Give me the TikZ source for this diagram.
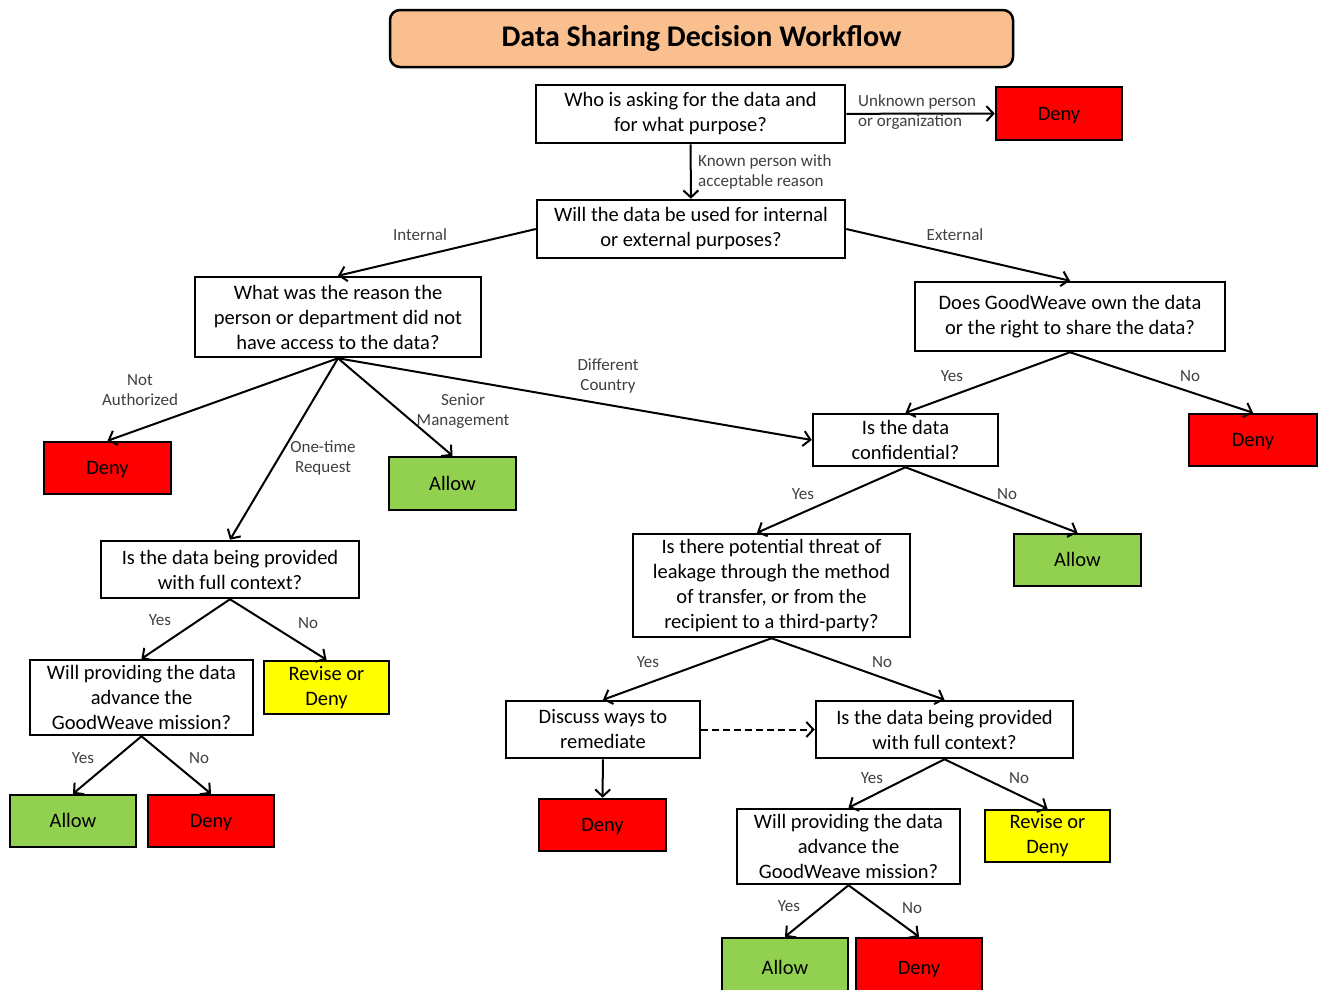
\documentclass[tikz,border=0pt]{standalone}
\usepackage{fontspec}
\setmainfont{Carlito}
\usetikzlibrary{arrows.meta,positioning}
\definecolor{denyred}{HTML}{FF0000}
\definecolor{allowgreen}{HTML}{92D050}
\definecolor{reviseyellow}{HTML}{FFFF00}
\definecolor{titlepeach}{HTML}{FABF8F}
\definecolor{lblgray}{HTML}{404040}
\tikzset{
  qbox/.style={rectangle,draw,fill=white,line width=2.5pt,align=center,inner sep=0pt,
    font=\fontsize{20.5}{25}\selectfont},
  deny/.style={qbox,fill=denyred,minimum width=126,minimum height=52,text height=15,text depth=2},
  allow/.style={qbox,fill=allowgreen,minimum width=126,minimum height=52,text height=15,text depth=2},
  revise/.style={qbox,fill=reviseyellow,minimum width=125,minimum height=53},
  lbl/.style={align=center,text=lblgray,inner sep=0pt,font=\fontsize{17}{20}\selectfont},
  arr/.style={line width=2pt,-{Straight Barb[length=7pt,width=15pt,line width=2pt]}}
}
\begin{document}
\begin{tikzpicture}[x=1pt,y=-1pt]
    \useasboundingbox[fill=white] (0,0) rectangle (1320,989);
    \node[qbox,fill=titlepeach,rounded corners=10,minimum width=623,minimum height=57,
      font=\fontsize{30}{32}\selectfont\bfseries] (title)at (701.5,38.5) {Data Sharing Decision Workflow};

    \node[qbox,minimum width=309,minimum height=58] (n1)at (690.5,114) {Who is asking for the data and\\for what purpose?};
    \node[deny,minimum height=53] (d1)at (1059,113.5) {Deny};
    \node[qbox,minimum width=308,minimum height=58] (n2)at (691,229) {Will the data be used for internal\\or external purposes?};
    \node[qbox,minimum width=286,minimum height=80] (n3)at (338,317) {What was the reason the\\person or department did not\\have access to the data?};
    \node[qbox,minimum width=310,minimum height=69] (n4)at (1070,316.5) {Does GoodWeave own the data\\or the right to share the data?};
    \node[deny,minimum width=127] (d2)at (107.5,468) {Deny};
    \node[allow,minimum width=127,minimum height=53] (a1)at (452.5,483.5) {Allow};
    \node[qbox,minimum width=185,minimum height=52] (n5)at (905.5,440) {Is the data\\confidential?};
    \node[deny,minimum width=128] (d3)at (1253,440) {Deny};
    \node[qbox,minimum width=258,minimum height=57] (n6)at (230,569.5) {Is the data being provided\\with full context?};
    \node[qbox,minimum width=223,minimum height=75] (n7)at (141.5,697.5) {Will providing the data\\advance the\\GoodWeave mission?};
    \node[revise] (r1)at (326.5,687.5) {Revise or\\Deny};
    \node[allow] (a2)at (73,821) {Allow};
    \node[deny] (d4)at (211,821) {Deny};
    \node[qbox,minimum width=277,minimum height=103] (n8)at (771.5,585.5) {Is there potential threat of\\leakage through the method\\of transfer, or from the\\recipient to a third-party?};
    \node[allow,minimum width=127] (a3)at (1077.5,560) {Allow};
    \node[qbox,minimum width=194,minimum height=57] (n9)at (603,729.5) {Discuss ways to\\remediate};
    \node[qbox,minimum width=257,minimum height=57] (n10)at (944.5,729.5) {Is the data being provided\\with full context?};
    \node[deny,minimum width=127] (d5)at (602.5,825) {Deny};
    \node[qbox,minimum width=223,minimum height=75] (n11)at (848.5,846.5) {Will providing the data\\advance the\\GoodWeave mission?};
    \node[revise,minimum height=52] (r2)at (1047.5,836) {Revise or\\Deny};
    \node[allow,minimum height=60] (a4)at (785,968) {Allow};
    \node[deny,minimum height=60] (d6)at (919,968) {Deny};

    % connectors
    \draw [arr] (n1) to (d1);
    \draw [arr] (n1) to (n2);
    \draw [arr] (n2.west) to (n3.north);
    \draw [arr] (n2.east) to (n4.north);
    \draw [arr] (n3.south) to (d2.north);
    \draw [arr] (n3.south) to (n6.north);
    \draw [arr] (n3.south) to (a1.north);
    \draw [arr] (n3.south) to (n5.west);
    \draw [arr] (n4.south) to (n5.north);
    \draw [arr] (n4.south) to (d3.north);
    \draw [arr] (n6.south) to (n7.north);
    \draw [arr] (n6.south) to (r1.north);
    \draw [arr] (n7.south) to (a2.north);
    \draw [arr] (n7.south) to (d4.north);
    \draw [arr] (n5.south) to (n8.north-|757,0);
    \draw [arr] (n5.south) to (a3.north);
    \draw [arr] (n8.south) to (n9.north);
    \draw [arr] (n8.south) to (n10.north);
    \draw [arr,dashed,dash pattern=on 7pt off 4pt] (n9) to (n10);
    \draw [arr] (n9) to (d5);
    \draw [arr] (n10.south) to (n11.north);
    \draw [arr] (n10.south) to (r2.north);
    \draw [arr] (n11.south) to (a4.north);
    \draw [arr] (n11.south) to (d6.north);

    % connector labels
    \node[lbl,align=left,anchor=west] (l1)at (858,112) {Unknown person\\or organization};
    \node[lbl,align=left,anchor=west] (l2)at (698,172) {Known person with\\acceptable reason};
    \node[lbl] (l3)at (420,235) {Internal};
    \node[lbl] (l4)at (955,235) {External};
    \node[lbl] (l5)at (140,390) {Not\\Authorized};
    \node[lbl] (l6)at (323,458) {One-time\\Request};
    \node[lbl] (l7)at (463,411) {Senior\\Management};
    \node[lbl] (l8)at (608,376) {Different\\Country};
    \node[lbl] (l9)at (952,376) {Yes};
    \node[lbl] (l10)at (1190,376) {No};
    \node[lbl] (l11)at (803,494) {Yes};
    \node[lbl] (l12)at (1007,494) {No};
    \node[lbl] (l13)at (160,620) {Yes};
    \node[lbl] (l14)at (308,623) {No};
    \node[lbl] (l15)at (83,758) {Yes};
    \node[lbl] (l16)at (199,758) {No};
    \node[lbl] (l17)at (648,662) {Yes};
    \node[lbl] (l18)at (882,662) {No};
    \node[lbl] (l19)at (872,778) {Yes};
    \node[lbl] (l20)at (1019,778) {No};
    \node[lbl] (l21)at (789,906) {Yes};
    \node[lbl] (l22)at (912,908) {No};
\end{tikzpicture}
\end{document}
